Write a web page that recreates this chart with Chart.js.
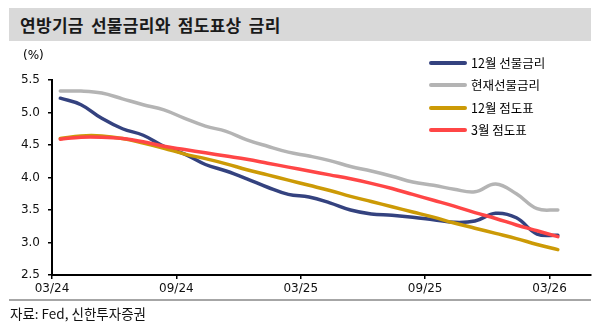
<!DOCTYPE html>
<html>
<head>
<meta charset="utf-8">
<script src="https://cdn.jsdelivr.net/npm/chart.js@4.4.1/dist/chart.umd.min.js"></script>
<style>
  html, body { margin: 0; padding: 0; background: #fff; }
  #wrap { position: relative; width: 600px; height: 330px; overflow: hidden; font-family: "Noto Sans CJK KR", "Noto Sans", sans-serif; }
  #chart { position: absolute; left: 0; top: 0; }
  #titlebar { position: absolute; left: 9px; top: 8px; width: 582px; height: 33px; background: #d9d9d9; }
  #title { position: absolute; left: 20px; top: 8px; height: 33px; line-height: 33px; font-size: 17px; font-weight: bold; letter-spacing: 0.3px; word-spacing: 3px; color: #1a1a1a; white-space: nowrap; }
  #unit { position: absolute; left: 23px; top: 47px; font-family: "DejaVu Sans", sans-serif; font-size: 12px; line-height: 16px; color: #000; }
  #legend { position: absolute; left: 429px; top: 53px; }
  .lg { position: relative; height: 22.3px; white-space: nowrap; }
  .lg .sw { position: absolute; left: 0; top: 8px; width: 38px; height: 4px; border-radius: 2px; }
  .lg .tx { position: absolute; left: 42px; top: 0; font-size: 12.5px; line-height: 20px; color: #000; }
  #sep { position: absolute; left: 9px; top: 299px; width: 582px; height: 1.5px; background: #a6a6a6; }
  #source { position: absolute; left: 10px; top: 303px; font-size: 13.5px; line-height: 20px; color: #111; white-space: nowrap; }
</style>
</head>
<body>
<div id="wrap">
  <div id="titlebar"></div>
  <div id="title">연방기금 선물금리와 점도표상 금리</div>
  <canvas id="chart" width="600" height="330"></canvas>
  <div id="unit">(%)</div>
  <div id="legend"></div>
  <div id="sep"></div>
  <div id="source">자료: Fed, 신한투자증권</div>
</div>
<script>
// Month offsets from 03/24 (x positions of the data points)
const months = [0.4, 1.4, 2.4, 3.4, 4.4, 5.4, 6.4, 7.4, 8.4, 9.4, 10.4, 11.4, 12.4,
                13.4, 14.4, 15.4, 16.4, 17.4, 18.4, 19.4, 20.4, 21.4, 22.4, 23.4, 24.4];

const tickMonths = [0, 6, 12, 18, 24];
const tickLabels = ['03/24', '09/24', '03/25', '09/25', '03/26'];

const seriesNames = ['12월 선물금리', '현재선물금리', '12월 점도표', '3월 점도표'];
const seriesColors = ['#34427f', '#b4b4b4', '#cc9a06', '#ff4646'];

const dec_futures = [5.22, 5.12, 4.91, 4.75, 4.65, 4.48, 4.36, 4.20, 4.10, 3.98, 3.85, 3.74, 3.70,
                     3.61, 3.50, 3.44, 3.42, 3.39, 3.35, 3.31, 3.33, 3.45, 3.38, 3.13, 3.11];
const cur_futures = [5.33, 5.33, 5.30, 5.21, 5.12, 5.04, 4.91, 4.79, 4.71, 4.58, 4.48, 4.39, 4.33,
                     4.26, 4.17, 4.10, 4.02, 3.93, 3.88, 3.82, 3.78, 3.90, 3.75, 3.52, 3.50];
const dec_dots    = [4.60, 4.64, 4.64, 4.60, 4.53, 4.45, 4.36, 4.29, 4.21, 4.12, 4.04, 3.96, 3.88,
                     3.80, 3.71, 3.63, 3.55, 3.47, 3.39, 3.30, 3.22, 3.14, 3.06, 2.97, 2.89];
const mar_dots    = [4.59, 4.62, 4.62, 4.60, 4.55, 4.48, 4.43, 4.38, 4.33, 4.28, 4.22, 4.16, 4.10,
                     4.04, 3.98, 3.91, 3.83, 3.74, 3.65, 3.56, 3.46, 3.37, 3.27, 3.18, 3.09];

const yMin = 2.5, yMax = 5.5, yStep = 0.5;
const xMin = 0, xMax = 26;

const seriesValues = [dec_futures, cur_futures, dec_dots, mar_dots];
const drawOrder = [3, 2, 1, 0]; // later series drawn on top

const datasets = seriesValues.map((vals, i) => ({
  label: seriesNames[i],
  data: months.map((m, j) => ({ x: m, y: vals[j] })),
  borderColor: seriesColors[i],
  backgroundColor: seriesColors[i],
  borderWidth: 3.5,
  pointRadius: 0,
  tension: 0.4,
  fill: false,
  order: drawOrder[i],
  borderCapStyle: 'round'
}));

// HTML legend
const lg = document.getElementById('legend');
seriesNames.forEach((n, i) => {
  const row = document.createElement('div');
  row.className = 'lg';
  row.innerHTML = '<div class="sw" style="background:' + seriesColors[i] + '"></div><div class="tx">' + n + '</div>';
  lg.appendChild(row);
});

new Chart(document.getElementById('chart'), {
  type: 'line',
  data: { datasets },
  options: {
    responsive: false,
    animation: false,
    devicePixelRatio: 1,
    layout: { padding: { left: 0, right: 9, top: 80, bottom: 0 } },
    plugins: { legend: { display: false }, tooltip: { enabled: false }, title: { display: false } },
    scales: {
      x: {
        type: 'linear',
        min: xMin, max: xMax,
        afterBuildTicks: s => { s.ticks = tickMonths.map(v => ({ value: v })); },
        afterFit: s => { s.height = 55; },
        ticks: {
          callback: (v) => { const k = tickMonths.indexOf(v); return k >= 0 ? tickLabels[k] : ''; },
          color: '#111', font: { family: 'DejaVu Sans', size: 12 }, padding: 3,
          maxRotation: 0, autoSkip: false
        },
        grid: { drawOnChartArea: false, drawTicks: true, tickLength: 4, color: '#000', lineWidth: 1.5 },
        border: { color: '#000', width: 2 }
      },
      y: {
        min: yMin, max: yMax,
        ticks: {
          stepSize: yStep,
          callback: v => v.toFixed(1),
          color: '#111', font: { family: 'DejaVu Sans', size: 12 }, padding: 8
        },
        afterFit: s => { s.width = 52; },
        grid: { drawOnChartArea: false, drawTicks: true, tickLength: 4, color: '#000', lineWidth: 1.5 },
        border: { color: '#000', width: 2 }
      }
    }
  }
});
</script>
</body>
</html>
